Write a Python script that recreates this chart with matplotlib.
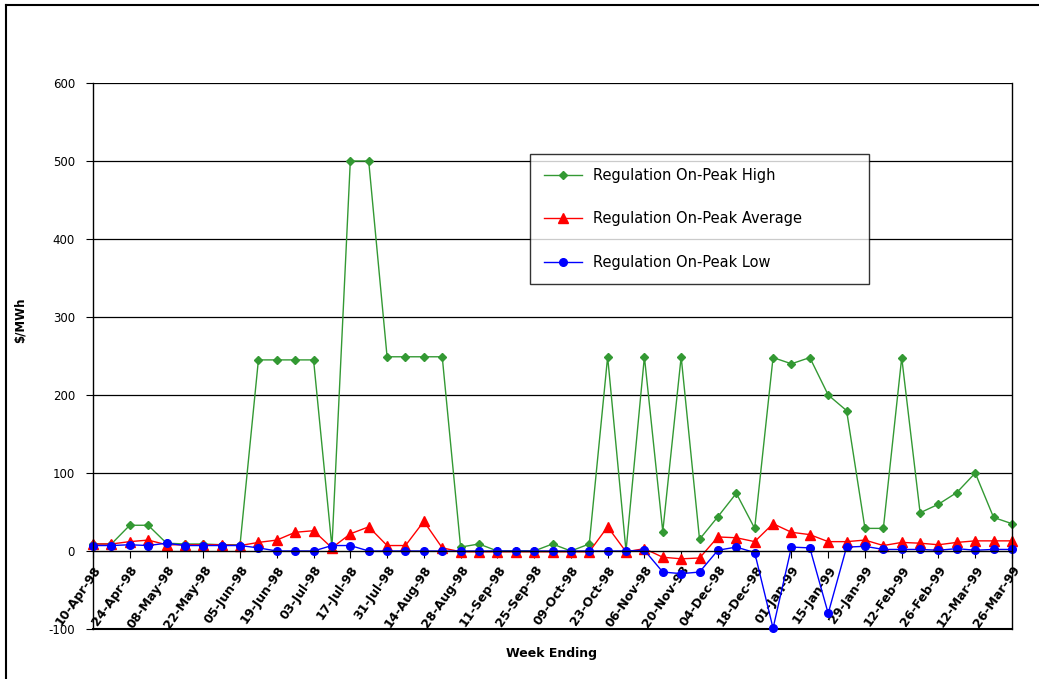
import matplotlib
matplotlib.use("Agg")
import matplotlib.pyplot as plt
from matplotlib.lines import Line2D

weeks = ['10-Apr-98', '17-Apr-98', '24-Apr-98', '01-May-98', '08-May-98', '15-May-98',
         '22-May-98', '29-May-98', '05-Jun-98', '12-Jun-98', '19-Jun-98', '26-Jun-98',
         '03-Jul-98', '10-Jul-98', '17-Jul-98', '24-Jul-98', '31-Jul-98', '07-Aug-98',
         '14-Aug-98', '21-Aug-98', '28-Aug-98', '04-Sep-98', '11-Sep-98', '18-Sep-98',
         '25-Sep-98', '02-Oct-98', '09-Oct-98', '16-Oct-98', '23-Oct-98', '30-Oct-98',
         '06-Nov-98', '13-Nov-98', '20-Nov-98', '27-Nov-98', '04-Dec-98', '11-Dec-98',
         '18-Dec-98', '25-Dec-98', '01-Jan-99', '08-Jan-99', '15-Jan-99', '22-Jan-99',
         '29-Jan-99', '05-Feb-99', '12-Feb-99', '19-Feb-99', '26-Feb-99', '05-Mar-99',
         '12-Mar-99', '19-Mar-99', '26-Mar-99']

high = [9, 9, 33, 33, 10, 9, 9, 8, 8, 245, 245, 245, 245, 5, 500, 500, 249, 249,
        249, 249, 5, 9, 0, 0, 0, 9, 0, 9, 249, 0, 249, 25, 249, 15, 44, 74,
        29, 248, 240, 248, 200, 180, 29, 29, 248, 49, 60, 75, 100, 43, 35]

average = [9, 9, 12, 14, 8, 8, 8, 8, 7, 11, 14, 24, 26, 4, 22, 31, 7, 7,
           38, 4, -1, -1, -1, -1, -1, -1, -1, -1, 31, -1, 3, -8, -10, -9, 18, 17,
           12, 35, 24, 21, 12, 12, 14, 7, 11, 10, 8, 11, 13, 13, 13]

low = [7, 7, 8, 7, 10, 7, 7, 7, 7, 4, 0, 0, 0, 7, 7, 0, 0, 0,
       0, 0, 0, 0, 0, 0, 0, 0, 0, 0, 0, 0, 1, -27, -29, -27, 1, 5,
       -2, -99, 5, 4, -80, 5, 6, 2, 2, 2, 1, 3, 1, 2, 2]

yticks = [-100, 0, 100, 200, 300, 400, 500, 600]

W, H = 1039, 679
fig = plt.figure(figsize=(W / 100, H / 100), dpi=100)
ax = fig.add_axes([93 / W, 1 - 629 / H, (1012 - 93) / W, (629 - 83) / H])

x = list(range(len(weeks)))
ax.plot(x, high, color='#339933', lw=1, marker='D', ms=4.5, clip_on=False,
        label='Regulation On-Peak High')
ax.plot(x, average, color='#ff0000', lw=1, marker='^', ms=6.5, clip_on=False,
        label='Regulation On-Peak Average')
ax.plot(x, low, color='#0000ff', lw=1, marker='o', ms=5.5, clip_on=False,
        label='Regulation On-Peak Low')

ax.set_xlim(0, len(weeks) - 1)
ax.set_ylim(-100, 600)

for v in yticks[2:]:
    ax.axhline(v, color='black', lw=0.9, zorder=0)
ax.axhline(-100, color='black', lw=1.5, clip_on=False, zorder=0)

ax.spines['bottom'].set_position(('data', 0))
for s in ax.spines.values():
    s.set_color('black')
    s.set_linewidth(1)
ax.spines['top'].set_visible(False)

ax.set_yticks(yticks)
ax.set_yticklabels([str(v) for v in yticks], fontsize=8.5)
ax.tick_params(axis='y', direction='out', length=5, pad=8)
ax.set_xticks(x[::2])
ax.set_xticklabels(weeks[::2], rotation=55, ha='right', va='top',
                   rotation_mode='anchor', fontsize=9, fontweight='bold')
ax.tick_params(axis='x', direction='out', length=5, pad=4)

fig.text(20 / W, 1 - 320 / H, '$/MWh', rotation=90, ha='center', va='center',
         fontsize=8.5, fontweight='bold')
fig.text(551 / W, 1 - 653 / H, 'Week Ending', ha='center', va='center',
         fontsize=9, fontweight='bold')

leg = ax.legend(loc='upper left',
                bbox_to_anchor=(530 / W, 1 - 283 / H, 339 / W, 129 / H),
                bbox_transform=fig.transFigure, mode='expand', fontsize=10.5,
                frameon=True, fancybox=False, edgecolor='black', borderpad=0.95,
                labelspacing=1.95, handlelength=2.6, borderaxespad=0)
leg.get_frame().set_linewidth(1)

fig.add_artist(Line2D([6 / W, 1.0], [1 - 5 / H, 1 - 5 / H], color='black', lw=1.5))
fig.add_artist(Line2D([6 / W, 6 / W], [0, 1 - 5 / H], color='black', lw=1.5))

fig.savefig('out.png', dpi=100)
